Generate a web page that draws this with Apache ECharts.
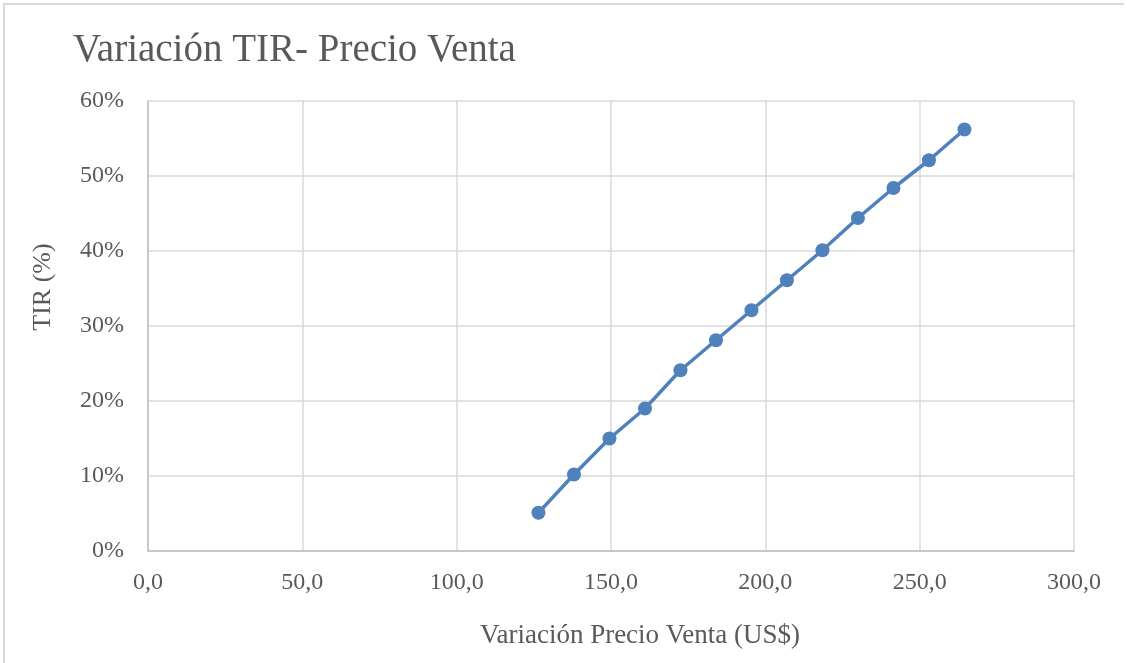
<!DOCTYPE html>
<html>
<head>
<meta charset="utf-8">
<script src="https://cdn.jsdelivr.net/npm/echarts@6/dist/echarts.min.js"></script>
<style>
	html, body { margin: 0; padding: 0; background: #ffffff; }
	#frame {
		position: absolute; left: 3px; top: 3px; width: 1121px; height: 660px;
		border-left: 2px solid #d9d9d9; border-top: 2px solid #d9d9d9;
		box-sizing: border-box;
	}
	#chart { position: absolute; left: 0; top: 0; width: 1127px; height: 663px; }
</style>
</head>
<body>
<div id="frame"></div>
<div id="chart"></div>
<script>
	// precio de venta (US$) y TIR (%)
	var precio = [126.5, 138, 149.5, 161, 172.5, 184, 195.5, 207, 218.5, 230, 241.5, 253, 264.5];
	var tir = [5.1, 10.2, 15.0, 19.0, 24.1, 28.1, 32.1, 36.1, 40.1, 44.4, 48.4, 52.1, 56.2];

	var puntos = [];
	for (let i = 0; i < precio.length; i++) {
		puntos.push([precio[i], tir[i]]);
	}

	var gris = '#595959';
	var fuente = '"Liberation Serif", "DejaVu Serif", serif';

	var chart = echarts.init(document.getElementById('chart'), null, { renderer: 'canvas' });
	chart.setOption({
		animation: false,
		title: {
			text: 'Variación TIR- Precio Venta',
			left: 68,
			top: 26,
			textStyle: { color: gris, fontFamily: fuente, fontSize: 39, fontWeight: 'normal' }
		},
		grid: { left: 148, right: 53, top: 101, bottom: 112, containLabel: false },
		xAxis: {
			type: 'value',
			min: 0,
			max: 300,
			interval: 50,
			axisLine: { show: true, lineStyle: { color: '#bfbfbf', width: 1.5 } },
			axisTick: { show: false },
			splitLine: { show: true, lineStyle: { color: '#d9d9d9', width: 1.5 } },
			axisLabel: {
				color: gris, fontFamily: fuente, fontSize: 24, margin: 20,
				formatter: function (v) { return v.toFixed(1).replace('.', ','); }
			}
		},
		yAxis: {
			type: 'value',
			min: 0,
			max: 60,
			interval: 10,
			axisLine: { show: true, lineStyle: { color: '#bfbfbf', width: 1.5 } },
			axisTick: { show: false },
			splitLine: { show: true, lineStyle: { color: '#d9d9d9', width: 1.5 } },
			axisLabel: {
				color: gris, fontFamily: fuente, fontSize: 24, margin: 24,
				formatter: function (v) { return v + '%'; }
			}
		},
		graphic: [
			{
				type: 'text',
				style: {
					text: 'Variación Precio Venta (US$)',
					x: 640, y: 636,
					fill: gris, font: '27px ' + fuente,
					align: 'center', verticalAlign: 'middle'
				}
			},
			{
				type: 'text',
				x: 43, y: 287,
				rotation: Math.PI / 2,
				style: {
					text: 'TIR (%)',
					fill: gris, font: '26px ' + fuente,
					align: 'center', verticalAlign: 'middle'
				}
			}
		],
		series: [{
			type: 'line',
			data: puntos,
			symbol: 'circle',
			symbolSize: 14,
			itemStyle: { color: '#4f81bd' },
			lineStyle: { color: '#4f81bd', width: 3.5 }
		}]
	});
</script>
</body>
</html>
